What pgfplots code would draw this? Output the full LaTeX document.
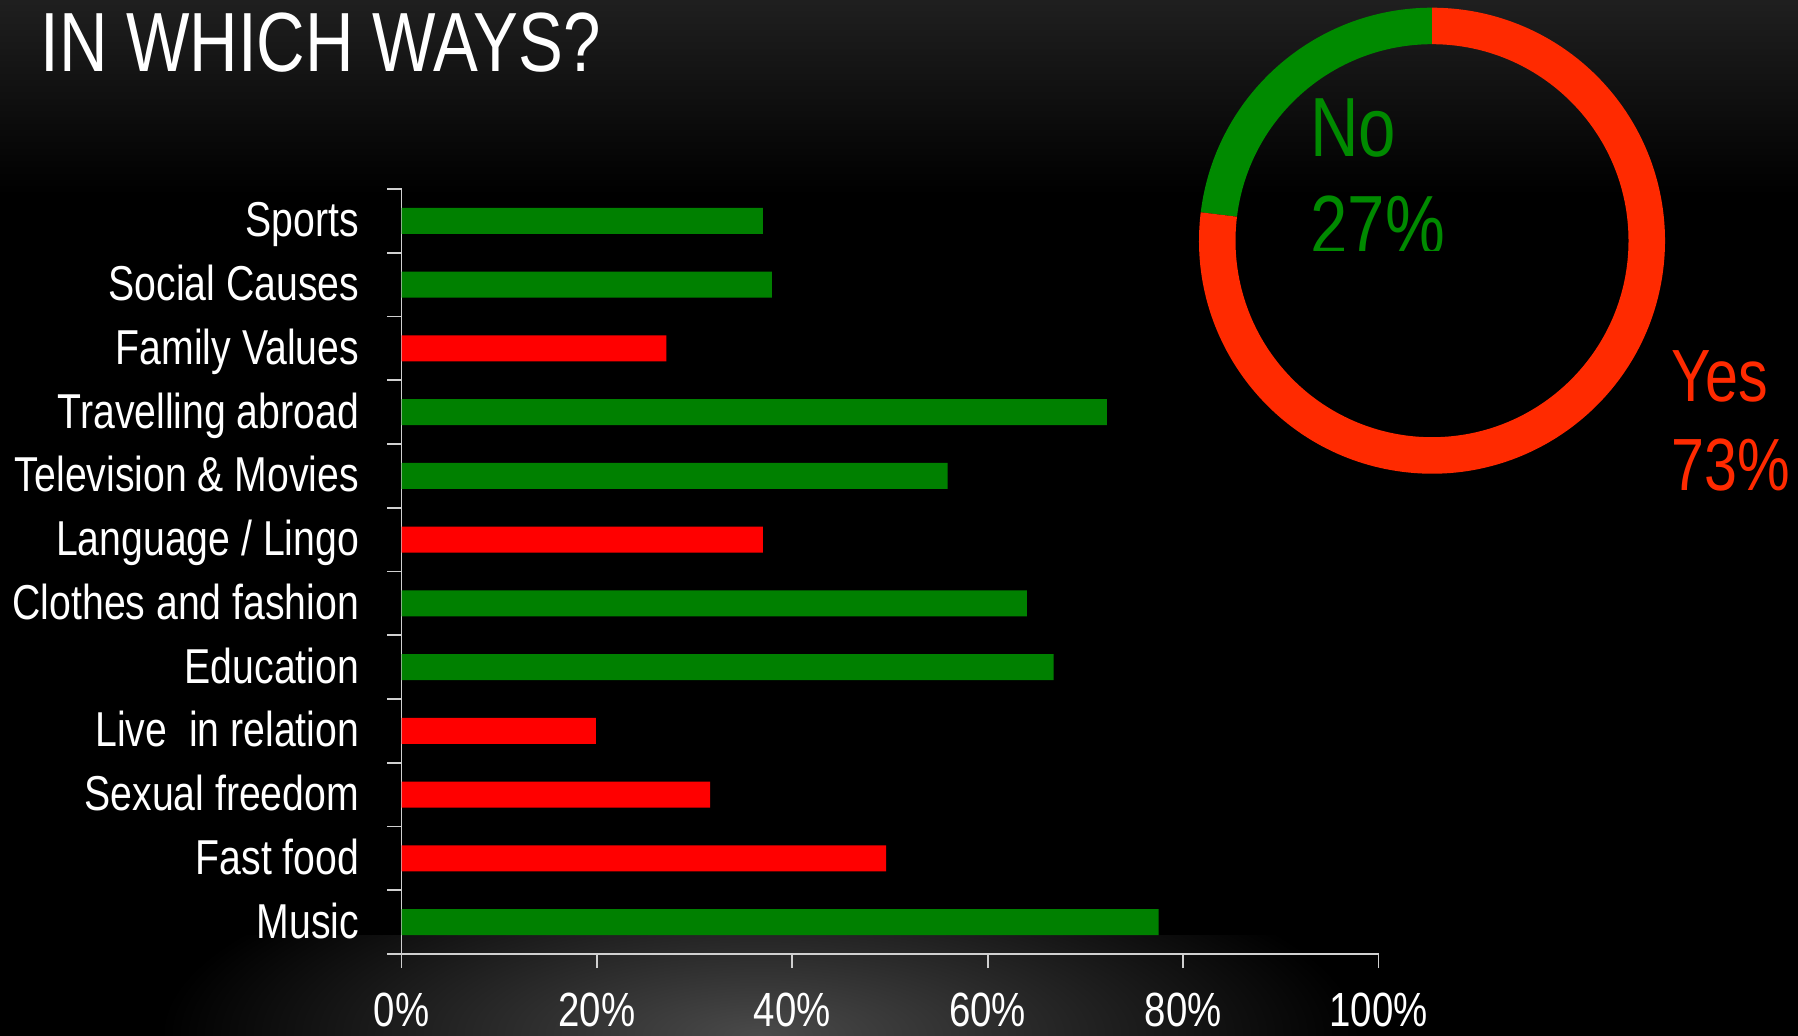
\documentclass[border=0pt]{standalone}
\usepackage{pgfplots}
\pgfplotsset{compat=1.18}
\usepackage{fontspec}
\setmainfont{Liberation Sans}[FakeStretch=0.8]

\definecolor{bargreen}{HTML}{008000}
\definecolor{barred}{HTML}{FF0000}
\definecolor{ringgreen}{HTML}{008A00}
\definecolor{ringred}{HTML}{FF2A00}
\definecolor{axisgray}{HTML}{D0D0D0}
\definecolor{topgray}{HTML}{202020}
\definecolor{glow}{HTML}{4A4A4A}

\begin{document}
\begin{tikzpicture}
\useasboundingbox (0,0) rectangle (899pt,517.5pt);
% background
\fill[black] (-3pt,-3pt) rectangle (902pt,520pt);
\shade[top color=topgray, bottom color=black] (-3pt,420pt) rectangle (902pt,520pt);
\begin{scope}
  \clip (0,0) rectangle (899pt,50pt);
  \shade[inner color=glow, outer color=black] (380pt,0pt) ellipse (300pt and 100pt);
\end{scope}

\begin{axis}[
  at={(200.75pt,40.5pt)}, anchor=south west,
  scale only axis, width=488.5pt, height=382.5pt,
  xbar, bar width=13pt, bar shift=0pt,
  xmin=0, xmax=100, ymin=-0.5, ymax=11.5, y dir=reverse,
  axis lines*=left,
  axis line style={draw=axisgray, line width=0.9pt},
  tick align=outside,
  xtick={0,20,40,60,80,100},
  xticklabels={0\%,20\%,40\%,60\%,80\%,100\%},
  ytick={0,...,11},
  yticklabels={Sports,Social Causes,Family Values,Travelling abroad,Television \& Movies,Language / Lingo,Clothes and fashion,Education,Live\ \ in relation,Sexual freedom,Fast food,Music},
  minor ytick={-0.5,0.5,...,11.5},
  major tick length=7pt, minor tick length=7pt,
  major y tick style={draw=none},
  minor y tick style={draw=axisgray, line width=0.9pt},
  major x tick style={draw=axisgray, line width=0.9pt},
  yticklabel style={font=\fontsize{24.5pt}{29pt}\selectfont, text=white, anchor=base east, inner sep=0pt, xshift=-14pt, yshift=-8pt},
  xticklabel style={font=\fontsize{24pt}{29pt}\selectfont, text=white, anchor=base, inner sep=0pt, yshift=-29pt},
]
\addplot[fill=bargreen, draw=none] coordinates {(37.0,0) (37.9,1) (72.2,3) (55.9,4) (64.0,6) (66.75,7) (77.5,11)};
\addplot[fill=barred, draw=none] coordinates {(27.1,2) (37.0,5) (19.9,8) (31.6,9) (49.6,10)};
\end{axis}

% title
\node[anchor=base west, inner sep=0pt, text=white, font=\fontsize{42pt}{48pt}\selectfont] at (20pt,481.5pt) {IN WHICH WAYS?};

% donut: No 27%, Yes 73%
\begin{scope}[shift={(716pt,397.15pt)}]
  \fill[ringgreen] (90:116.5pt) arc[start angle=90, end angle=173, radius=116.5pt]
    -- (173:98.25pt) arc[start angle=173, end angle=90, radius=98.25pt] -- cycle;
  \fill[ringred] (173:116.5pt) arc[start angle=173, end angle=450, radius=116.5pt]
    -- (90:98.25pt) arc[start angle=450, end angle=173, radius=98.25pt] -- cycle;
\end{scope}
\node[anchor=base west, inner sep=0pt, text=ringgreen, font=\fontsize{42pt}{48pt}\selectfont] at (655pt,439pt) {No};
\begin{scope}
  \clip (600pt,392pt) rectangle (760pt,460pt);
  \node[anchor=base west, inner sep=0pt, text=ringgreen, font=\fontsize{42pt}{48pt}\selectfont] at (655pt,390pt) {27\%};
\end{scope}
\node[anchor=base west, inner sep=0pt, text=ringred, font=\fontsize{37pt}{44pt}\selectfont] at (835.5pt,316.5pt) {Yes};
\node[anchor=base west, inner sep=0pt, text=ringred, font=\fontsize{37pt}{44pt}\selectfont] at (835.5pt,272.5pt) {73\%};
\end{tikzpicture}
\end{document}
